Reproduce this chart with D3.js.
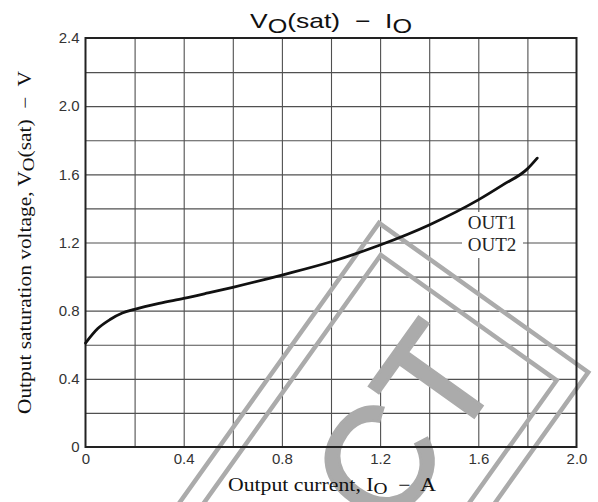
<!DOCTYPE html>
<html>
<head>
<meta charset="utf-8">
<script src="https://cdn.jsdelivr.net/npm/d3@7"></script>
<style>
  body { margin: 0; background: #fff; }
  svg { display: block; }
  text { white-space: pre; }
</style>
</head>
<body>
<div id="chart"></div>
<script>
const width = 598,
    height = 502,
    margin = { top: 38, right: 21.5, bottom: 55, left: 85.5 };

// VO(sat) vs IO curve
const currentA = [0, 0.05, 0.1, 0.15, 0.2, 0.3, 0.4, 0.5, 0.6, 0.8, 1.0, 1.2, 1.4, 1.6, 1.7, 1.8, 1.84];
const voltageV = [0.61, 0.695, 0.748, 0.786, 0.808, 0.843, 0.872, 0.904, 0.937, 1.009, 1.087, 1.185, 1.303, 1.45, 1.538, 1.632, 1.695];

const xTicks = [0, 0.4, 0.8, 1.2, 1.6, 2.0];
const yTicks = [0, 0.4, 0.8, 1.2, 1.6, 2.0, 2.4];
const xGrid = [0.2, 0.4, 0.6, 0.8, 1.0, 1.2, 1.4, 1.6, 1.8];
const yGrid = [0.2, 0.4, 0.6, 0.8, 1.0, 1.2, 1.4, 1.6, 1.8, 2.0, 2.2];
const seriesLabels = ["OUT1", "OUT2"];

const data = currentA.map((d, i) => ({ io: d, v: voltageV[i] }));

const x = d3.scaleLinear().domain([0, 2.0]).range([margin.left, width - margin.right]);
const y = d3.scaleLinear().domain([0, 2.4]).range([height - margin.bottom, margin.top]);

const svg = d3.select("#chart")
    .append("svg")
    .attr("width", width)
    .attr("height", height);

const plotH = y(0) - y(2.4);
const plotW = x(2.0) - x(0);

// grid
const gx = svg.append("g")
    .attr("transform", `translate(0,${y(0)})`)
    .call(d3.axisBottom(x).tickValues(xGrid).tickSize(-plotH).tickFormat(""));
const gy = svg.append("g")
    .attr("transform", `translate(${x(0)},0)`)
    .call(d3.axisLeft(y).tickValues(yGrid).tickSize(-plotW).tickFormat(""));
[gx, gy].forEach(g => {
    g.select(".domain").remove();
    g.selectAll("line").attr("stroke", "#505050").attr("stroke-width", 1.1);
});

// watermark
const wm = svg.append("g")
    .attr("transform", "translate(379,223) rotate(-54.5)")
    .attr("fill", "none")
    .attr("stroke", "#ababab")
    .attr("stroke-width", 4.5);
wm.append("rect").attr("x", -700).attr("y", 0).attr("width", 700).attr("height", 257);
wm.append("rect").attr("x", -700).attr("y", 20).attr("width", 675).attr("height", 216);
wm.append("text")
    .attr("x", -50)
    .attr("y", 190)
    .attr("text-anchor", "end")
    .attr("font-family", "Liberation Sans, Arial, sans-serif")
    .attr("font-size", 150)
    .attr("fill", "#ababab")
    .attr("stroke-width", 3)
    .text("CT");

// frame
svg.append("rect")
    .attr("x", x(0))
    .attr("y", y(2.4))
    .attr("width", plotW)
    .attr("height", plotH)
    .attr("fill", "none")
    .attr("stroke", "#222")
    .attr("stroke-width", 2);

// label box for OUT1 / OUT2
svg.append("rect")
    .attr("x", 462)
    .attr("y", 212)
    .attr("width", 61)
    .attr("height", 46)
    .attr("fill", "#fff");

svg.selectAll(".outlabel")
    .data(seriesLabels)
    .join("text")
    .attr("class", "outlabel")
    .attr("x", 492)
    .attr("y", (d, i) => 229 + i * 22)
    .attr("text-anchor", "middle")
    .attr("font-family", "Liberation Serif, Times New Roman, serif")
    .attr("font-size", 19)
    .attr("fill", "#222")
    .text(d => d);

// curve
const line = d3.line()
    .x(d => x(d.io))
    .y(d => y(d.v))
    .curve(d3.curveMonotoneX);

svg.append("path")
    .datum(data)
    .attr("d", line)
    .attr("fill", "none")
    .attr("stroke", "#111")
    .attr("stroke-width", 2.8)
    .attr("stroke-linecap", "round");

// tick labels
const fmt = d => d === 0 ? "0" : d3.format(".1f")(d);
const ax = svg.append("g")
    .attr("transform", `translate(0,${y(0)})`)
    .call(d3.axisBottom(x).tickValues(xTicks).tickSize(0).tickPadding(6).tickFormat(fmt));
const ay = svg.append("g")
    .attr("transform", `translate(${x(0)},0)`)
    .call(d3.axisLeft(y).tickValues(yTicks).tickSize(0).tickPadding(6).tickFormat(fmt));
[ax, ay].forEach(g => {
    g.select(".domain").remove();
    g.selectAll("text")
        .attr("font-family", "Liberation Sans, Arial, sans-serif")
        .attr("font-size", 15)
        .attr("fill", "#333");
});

// title
const title = svg.append("text")
    .attr("x", (x(0) + x(2.0)) / 2)
    .attr("y", 28)
    .attr("text-anchor", "middle")
    .attr("textLength", 162)
    .attr("lengthAdjust", "spacingAndGlyphs")
    .attr("font-family", "Liberation Sans, Arial, sans-serif")
    .attr("font-size", 21)
    .attr("fill", "#111");
title.append("tspan").text("V");
title.append("tspan").attr("dy", 5).attr("font-size", 20).text("O");
title.append("tspan").attr("dy", -5).text("(sat)  \u2212  I");
title.append("tspan").attr("dy", 5).attr("font-size", 20).text("O");

// x axis label
const xl = svg.append("text")
    .attr("x", 332)
    .attr("y", 491)
    .attr("text-anchor", "middle")
    .attr("textLength", 208)
    .attr("lengthAdjust", "spacingAndGlyphs")
    .attr("font-family", "Liberation Serif, Times New Roman, serif")
    .attr("font-size", 18)
    .attr("fill", "#111");
xl.append("tspan").text("Output current, I");
xl.append("tspan").attr("dy", 3).attr("font-size", 16).text("O");
xl.append("tspan").attr("dy", -3).text("  \u2212  A");

// y axis label
const yl = svg.append("text")
    .attr("transform", `translate(31,${(y(0) + y(2.4)) / 2}) rotate(-90)`)
    .attr("text-anchor", "middle")
    .attr("textLength", 343)
    .attr("lengthAdjust", "spacingAndGlyphs")
    .attr("font-family", "Liberation Serif, Times New Roman, serif")
    .attr("font-size", 18)
    .attr("fill", "#111");
yl.append("tspan").text("Output saturation voltage, V");
yl.append("tspan").attr("dy", 3).attr("font-size", 16).text("O");
yl.append("tspan").attr("dy", -3).text("(sat)  \u2212  V");
</script>
</body>
</html>
